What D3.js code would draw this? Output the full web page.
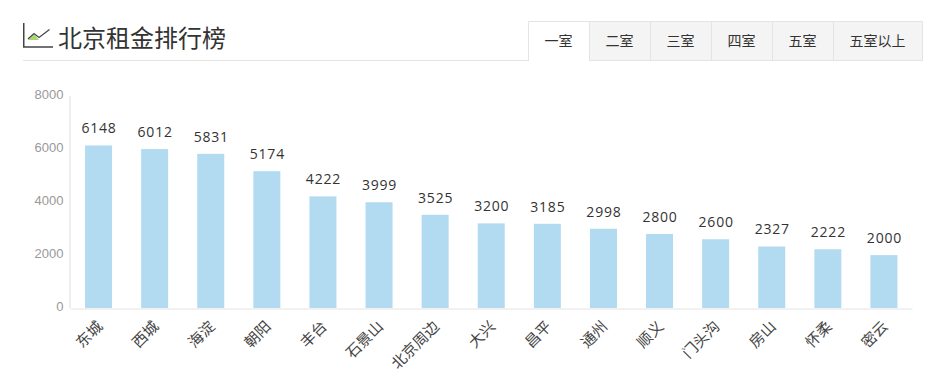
<!DOCTYPE html>
<html>
<head>
<meta charset="utf-8">
<script src="https://d3js.org/d3.v7.min.js"></script>
<style>
    html,body{margin:0;padding:0;background:#fff;overflow:hidden;}
    text{font-family:"Noto Sans CJK SC","Noto Sans",sans-serif;}
</style>
</head>
<body>
<script>
const title = '北京租金排行榜';
const tabs = ['一室','二室','三室','四室','五室','五室以上'];
const tabEdges = [528,589,650,711,772,833,922];
const districts = ['东城','西城','海淀','朝阳','丰台','石景山','北京周边','大兴','昌平','通州','顺义','门头沟','房山','怀柔','密云'];
const rents = [6148,6012,5831,5174,4222,3999,3525,3200,3185,2998,2800,2600,2327,2222,2000];
const yTicks = [0,2000,4000,6000,8000];

const svg = d3.select('body').append('svg').attr('width',937).attr('height',376);

// header
svg.append('line').attr('x1',23).attr('x2',528).attr('y1',60.5).attr('y2',60.5).attr('stroke','#e4e4e4');
const icon = svg.append('g');
icon.append('path').attr('d','M28 40 L34 34 L39 40 Z').attr('fill','#a6d86f');
icon.append('path').attr('d','M28 39 L34 33.5 L39 37.5 L49.5 29.5').attr('fill','none').attr('stroke','#444').attr('stroke-width',1.2);
icon.append('path').attr('d','M23.75 23 V47 H53').attr('fill','none').attr('stroke','#444').attr('stroke-width',1.5);
svg.append('text').attr('x',58).attr('y',47).attr('font-size',24).attr('fill','#333').text(title);

// tabs
const tab = svg.selectAll('g.tab').data(tabs).enter().append('g').attr('class','tab');
tab.append('rect')
    .attr('x',(d,i)=>tabEdges[i]+0.5)
    .attr('y',21.5)
    .attr('width',(d,i)=>tabEdges[i+1]-tabEdges[i])
    .attr('height',39)
    .attr('fill',(d,i)=>i==0?'#fff':'#f4f4f4')
    .attr('stroke','#e4e4e4');
svg.append('line').attr('x1',529).attr('x2',589).attr('y1',60.5).attr('y2',60.5).attr('stroke','#fff');
tab.append('text')
    .attr('x',(d,i)=>(tabEdges[i]+tabEdges[i+1])/2)
    .attr('y',46)
    .attr('text-anchor','middle')
    .attr('font-size',14)
    .attr('fill','#333')
    .text(d=>d);

// chart
const x = d3.scaleBand().domain(districts).range([70.5,912]);
const y = d3.scaleLinear().domain([0,8000]).range([308,96.5]);
const barW = 27;

svg.selectAll('rect.bar').data(rents).enter().append('rect')
    .attr('class','bar')
    .attr('x',(d,i)=>x(districts[i])+x.bandwidth()/2-barW/2)
    .attr('y',d=>y(d))
    .attr('width',barW)
    .attr('height',d=>y(0)-y(d))
    .attr('fill','#b2daf1');

svg.selectAll('text.val').data(rents).enter().append('text')
    .attr('class','val')
    .attr('x',(d,i)=>x(districts[i])+x.bandwidth()/2+0.5)
    .attr('y',d=>y(d)-12)
    .attr('text-anchor','middle')
    .attr('font-size',14)
    .attr('letter-spacing',0.8)
    .attr('fill','#333')
    .style('font-family','"Open Sans",sans-serif')
    .text(d=>d);

// tick labels sit on a slightly taller scale than the bars
const yAxisScale = y.copy().range([308,95.5]);
const yAxis = svg.append('g').attr('transform','translate(69.5,0)')
    .call(d3.axisLeft(yAxisScale).tickValues(yTicks).tickFormat(d3.format('d')).tickSize(0).tickPadding(6));
yAxis.select('.domain').attr('stroke','#ddd');
yAxis.selectAll('text').attr('font-size',13).attr('fill','#999').attr('dy','0.2em').style('font-family','"Liberation Sans",sans-serif');

const xAxis = svg.append('g').attr('transform','translate(0,308.5)')
    .call(d3.axisBottom(x).tickSize(0).tickPadding(0));
xAxis.select('.domain').attr('stroke','#e4e4e4');
xAxis.selectAll('text')
    .attr('font-size',15)
    .attr('fill','#444')
    .attr('text-anchor','end')
    .attr('dy',0)
    .attr('transform','translate(5,19) rotate(-45)');
</script>
</body>
</html>
